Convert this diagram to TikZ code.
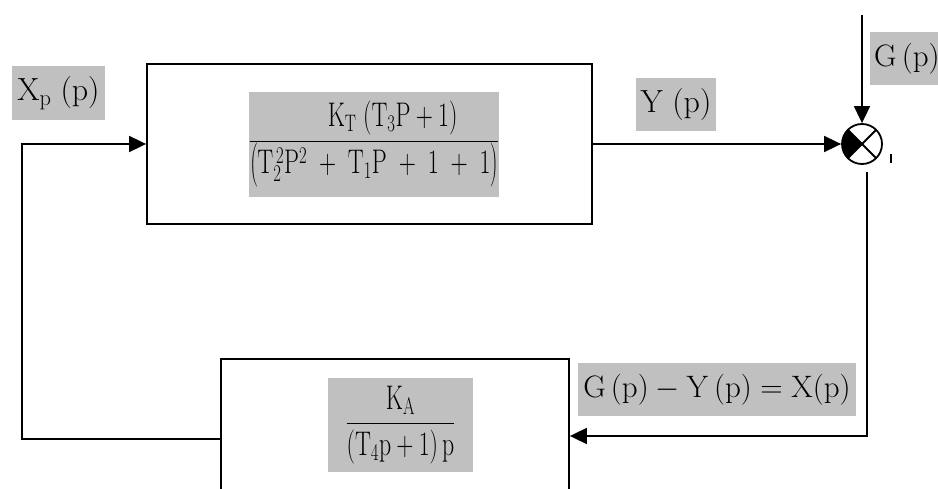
\RequirePackage{fix-cm}
\documentclass[tikz,border=0pt]{standalone}
\usepackage{graphicx}
\usetikzlibrary{arrows.meta}
\definecolor{labelgray}{RGB}{192,192,192}
\tikzset{
  wire/.style={line width=1.8pt},
  flow/.style={wire,-{Triangle[length=17pt,width=16pt]}},
  block/.style={draw,line width=1.8pt,inner sep=0pt},
  tag/.style={fill=labelgray,inner sep=0pt,font=\fontsize{32}{38}\selectfont},
  gaintag/.style={fill=labelgray,inner sep=0pt,font=\fontsize{28}{34}\selectfont},
  sumjunction/.style={circle,draw,line width=1.8pt,minimum size=40pt,inner sep=0pt,
    path picture={
      \fill (path picture bounding box.center) -- (path picture bounding box.north west)
            -- (path picture bounding box.south west) -- cycle;
      \draw[line width=1.8pt] (path picture bounding box.north west) -- (path picture bounding box.south east)
            (path picture bounding box.south west) -- (path picture bounding box.north east);
    }}
}
% fraction set a little narrow and tall
\newcommand{\tallfrac}[2]{\scalebox{0.85}[1.22]{$\displaystyle\frac{#1}{#2}$}}
% widely spaced plus sign
\newcommand{\wplus}{\mskip5mu+\mskip5mu}
% tall parentheses
\newcommand{\tallparen}[1]{\left(\vrule height 22pt depth 12pt width 0pt#1\right)}
\begin{document}
\begin{tikzpicture}[x=1pt,y=-1pt]
\useasboundingbox (0,0) rectangle (938,489);
\clip (0,0) rectangle (938,489);

% plant and feedback blocks
\node[block,minimum width=445pt,minimum height=160pt] (tf) at (369.5,144) {};
\node[block,minimum width=348pt,minimum height=170pt] (fb) at (395,444) {};

% transfer functions
\node[gaintag,minimum width=250pt,minimum height=105pt] (tfgain) at (374,144.5)
  {\tallfrac{\kern44pt\mathrm{K_T}\;(\mathrm{T_3P}+1)}{\tallparen{\mathrm{T_2^{\,2}P^2}\wplus\mathrm{T_1P}\wplus1\wplus1}}};
\node[gaintag,minimum width=145pt,minimum height=94pt] (fbgain) at (400.5,425)
  {\tallfrac{\mathrm{K_A}}{(\mathrm{T_4p}+1)\,\mathrm{p}}};

% signal labels
\node[tag,minimum width=93pt,minimum height=54pt] (xp) at (58.5,93) {$\mathrm{X_p\;(p)}$};
\node[tag,minimum width=80pt,minimum height=53pt] (yp) at (676,104.5) {$\mathrm{Y\;(p)}$};
\node[tag,font=\fontsize{31}{37}\selectfont,anchor=west,inner xsep=4pt,minimum height=53pt] (gp) at (870,58.5) {$\mathrm{G\,(p)}$};
\node[tag,font=\fontsize{31}{37}\selectfont,minimum width=278pt,minimum height=53pt] (err) at (717,389.5)
  {$\mathrm{G\,(p)-Y\,(p)=X(p)}$};

% summing junction
\node[sumjunction] (sum) at (862,144) {};
\draw[line width=2.6pt] (891,154) -- (891,163);

% connectors
\coordinate (gsrc) at (862,15);
\coordinate (tap) at (867,172);
\coordinate (bend) at (867,436);
\coordinate (ret) at (22,439);
\draw[flow] (tf.east) -- (sum.west);
\draw[flow] (gsrc) -- (sum.north);
\draw[flow] (tap) -- (bend) -- (bend -| fb.east);
\draw[flow] (ret -| fb.west) -- (ret) |- (tf.west);
\end{tikzpicture}
\end{document}
